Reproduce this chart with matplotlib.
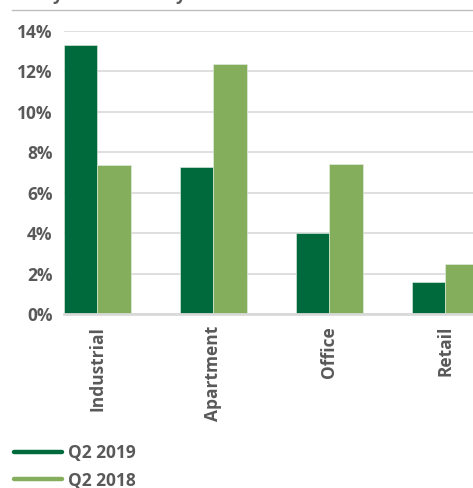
import matplotlib
matplotlib.use("Agg")
import matplotlib.pyplot as plt
from matplotlib.lines import Line2D
import numpy as np

categories = ["Industrial", "Apartment", "Office", "Retail"]
q2_2019 = [13.28, 7.27, 4.0, 1.58]
q2_2018 = [7.36, 12.36, 7.42, 2.5]
series_labels = ["Q2 2019", "Q2 2018"]
ytick_vals = [0, 2, 4, 6, 8, 10, 12, 14]
ytick_labels = ["0%", "2%", "4%", "6%", "8%", "10%", "12%", "14%"]

dark = "#006A3D"
light = "#84AE5B"
grid_c = "#D9D9D9"
text_c = "#595959"
plt.rcParams['font.family'] = ['Open Sans', 'DejaVu Sans']

W, H = 473, 488
fig = plt.figure(figsize=(W / 100, H / 100), dpi=100)
fig.patch.set_facecolor("white")

left_px = 63.5
unit = 116.0
bw = 0.288
x0 = -bw - 0.004
x1 = 3.6
ax = fig.add_axes([left_px / W, (H - 314.3) / H, (x1 - x0) * unit / W, 283.6 / H])
x = np.arange(len(categories))
ax.bar(x - bw / 2, q2_2019, width=bw, color=dark, edgecolor="#E8F0E8", linewidth=0.4, zorder=3)
ax.bar(x + bw / 2, q2_2018, width=bw, color=light, edgecolor="#E8F0E8", linewidth=0.4, zorder=3)
ax.set_xlim(x0, x1)
ax.set_ylim(0, 14)
ax.set_yticks(ytick_vals)
ax.set_yticklabels(ytick_labels)
ax.set_xticks(x)
ax.set_xticklabels(categories, rotation=90, va="top", ha="center")
for s in ["top", "right", "left"]:
    ax.spines[s].set_visible(False)
ax.spines["bottom"].set_color(grid_c)
ax.spines["bottom"].set_linewidth(2.0)
ax.spines["bottom"].set_zorder(4)
ax.yaxis.grid(True, color=grid_c, linewidth=1.2, zorder=0)
ax.set_axisbelow(True)
ax.tick_params(axis="both", length=0, labelcolor=text_c, labelsize=12.5)
ax.tick_params(axis="y", pad=8)
ax.tick_params(axis="x", pad=8.5)
for lab in ax.get_xticklabels() + ax.get_yticklabels():
    lab.set_fontweight("bold")

# title fragment (cut off at top in the reference) and separator line
fig.text(12 / W, 1 - 0.3 / H, "One-year returns by sector", fontsize=12.5, fontweight="bold",
         color=text_c, va="baseline", ha="left")
fig.add_artist(Line2D([12 / W, 1.0], [1 - 10.3 / H, 1 - 10.3 / H], color="#BFBFBF", linewidth=1.0,
                      transform=fig.transFigure))

handles = [Line2D([0], [0], color=dark, linewidth=3.2, solid_capstyle="round"),
           Line2D([0], [0], color=light, linewidth=3.2, solid_capstyle="round")]
leg = fig.legend(handles, series_labels, loc="upper left", bbox_to_anchor=(14 / W, 1 - 444 / H),
                 frameon=False, fontsize=12.5, handlelength=2.75, handletextpad=0.35,
                 labelspacing=0.55, borderpad=0, borderaxespad=0)
for t in leg.get_texts():
    t.set_color(text_c)
    t.set_fontweight("bold")

fig.savefig("out.png", dpi=100, facecolor="white")
